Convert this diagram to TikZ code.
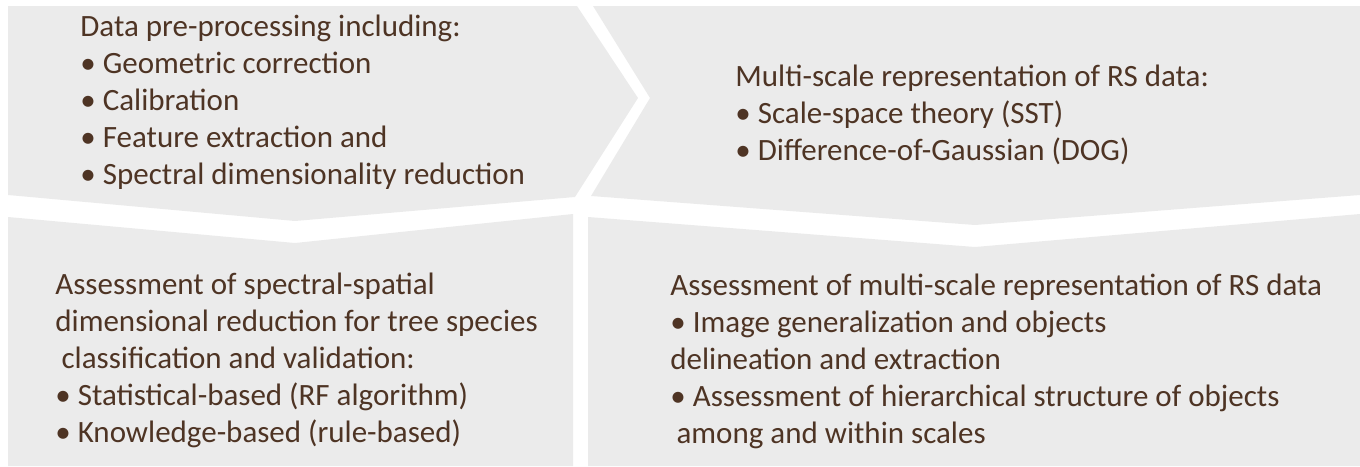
\documentclass[tikz,border=0pt]{standalone}
\usepackage{fontspec}
\setmainfont{Carlito}
\usetikzlibrary{positioning}
\definecolor{panelGray}{HTML}{EBEBEB}
\definecolor{textBrown}{HTML}{4E3424}
\tikzset{panel/.style={fill=panelGray}}
\tikzset{panel text/.style={text=textBrown, align=left, anchor=base west, inner sep=0pt,
		font=\fontsize{15.5}{18.5}\selectfont}}
\newcommand{\bul}{\textbullet\ }

\begin{document}
\begin{tikzpicture}[x=0.5pt,y=-0.5pt]
	\useasboundingbox (0,0) rectangle (1360,466);
	% four panels
	\fill[panel] (8,6) -- (577,6) -- (638,98) -- (575,197) -- (295,221) -- (8,195) -- cycle;
	\fill[panel] (593,6) -- (1360,6) -- (1360,195) -- (975,225) -- (591,196) -- (650,98) -- cycle;
	\fill[panel] (8,217) -- (295,243) -- (573,214) -- (573,466) -- (8,466) -- cycle;
	\fill[panel] (588,217) -- (975,247) -- (1360,214) -- (1360,466) -- (588,466) -- cycle;
	% texts, placed at the baseline of their last line
	\node[panel text] at (80,184) (pre_proc) {Data pre-processing including:\\
		\bul Geometric correction\\ \bul Calibration\\ \bul Feature extraction and\\
		\bul Spectral dimensionality reduction};
	\node[panel text] at (735,160) (multi_scale) {Multi-scale representation of RS data:\\
		\bul Scale-space theory (SST)\\ \bul Difference-of-Gaussian (DOG)};
	\node[panel text] at (55,442) (assess_spec) {Assessment of spectral-spatial\\
		dimensional reduction for tree species\\ \hspace*{0.2em}classification and validation:\\
		\bul Statistical-based (RF algorithm)\\ \bul Knowledge-based (rule-based)};
	\node[panel text] at (670,443) (assess_ms) {Assessment of multi-scale representation of RS data\\
		\bul Image generalization and objects\\ delineation and extraction\\
		\bul Assessment of hierarchical structure of objects\\ \hspace*{0.2em}among and within scales};
\end{tikzpicture}
\end{document}
